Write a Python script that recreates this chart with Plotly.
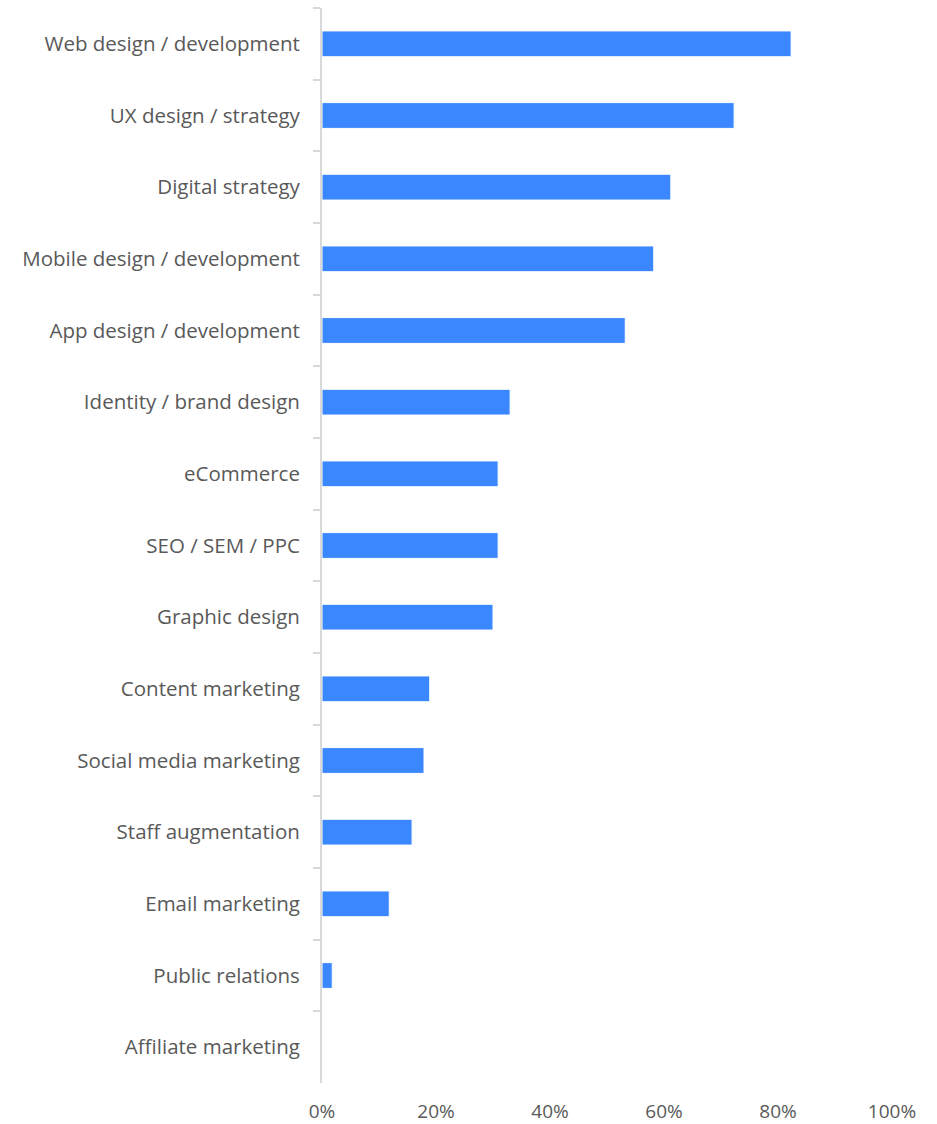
import plotly.graph_objects as go

categories = [
    "Web design / development",
    "UX design / strategy",
    "Digital strategy",
    "Mobile design / development",
    "App design / development",
    "Identity / brand design",
    "eCommerce",
    "SEO / SEM / PPC",
    "Graphic design",
    "Content marketing",
    "Social media marketing",
    "Staff augmentation",
    "Email marketing",
    "Public relations",
    "Affiliate marketing",
]
shares = [82.3, 72.3, 61.2, 58.2, 53.2, 33.0, 30.9, 30.9, 30.0, 18.9, 17.9, 15.8, 11.8, 1.8, 0.0]
x_ticks = [0, 20, 40, 60, 80, 100]
x_tick_labels = ["0%", "20%", "40%", "60%", "80%", "100%"]

text_color = "#595959"
axis_color = "#d9d9d9"

fig = go.Figure(
    go.Bar(
        y=categories,
        x=shares,
        orientation="h",
        marker=dict(color="#3B87FF", line=dict(color="#ffffff", width=1)),
        width=0.36,
    )
)

fig.update_layout(
    width=937,
    height=1124,
    margin=dict(l=322, r=45, t=8, b=41),
    paper_bgcolor="white",
    plot_bgcolor="white",
    showlegend=False,
    bargap=0.64,
    font=dict(family="Open Sans", size=19, color=text_color),
)

fig.update_xaxes(
    range=[0, 100],
    tickvals=x_ticks,
    ticktext=x_tick_labels,
    showgrid=False,
    zeroline=False,
    showline=False,
    ticks="outside",
    ticklen=11,
    tickcolor="rgba(0,0,0,0)",
    tickfont=dict(size=19, color=text_color),
    automargin=False,
)

fig.update_yaxes(
    categoryorder="array",
    categoryarray=categories,
    autorange="reversed",
    showgrid=False,
    zeroline=False,
    showline=True,
    linecolor=axis_color,
    linewidth=2,
    ticks="outside",
    tickson="boundaries",
    ticklen=7,
    tickwidth=1.5,
    tickcolor=axis_color,
    ticklabelstandoff=16,
    tickfont=dict(size=20.5, color=text_color),
    automargin=False,
)

fig.write_html("out.html")
